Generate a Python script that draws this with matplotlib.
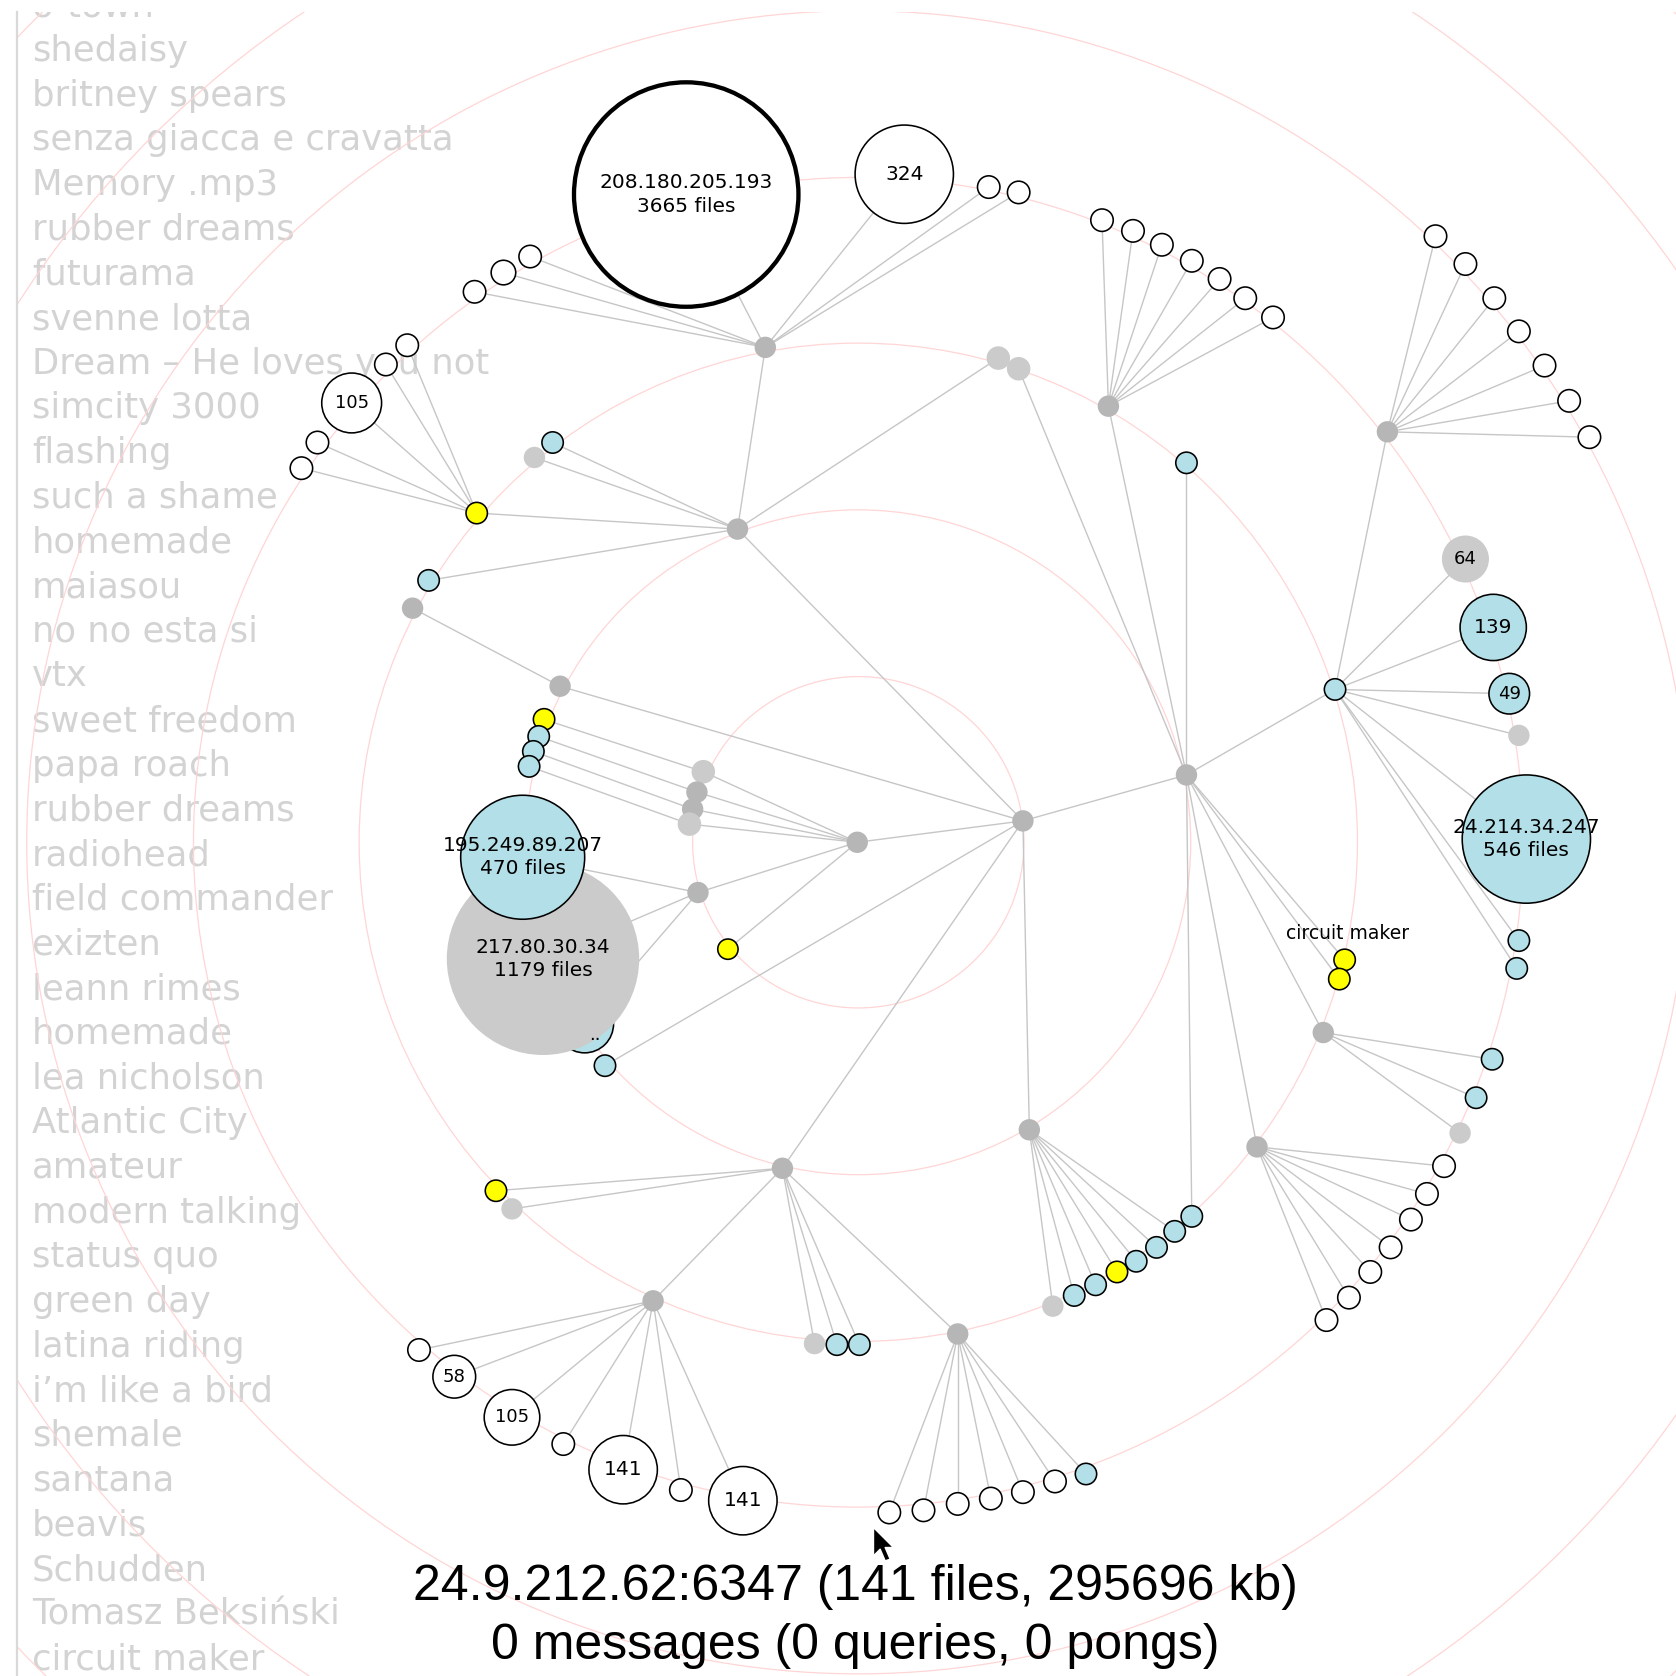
import matplotlib
matplotlib.use("Agg")
from matplotlib import pyplot as plt
from matplotlib.patches import Circle
from matplotlib.path import Path
from matplotlib.collections import LineCollection

# everything is in pixels of the 1568 preview, y pointing down
ring_center = (803, 788)
ring_radius = [155, 311, 467, 622, 778, 934, 1089, 1245]

# one line per group: core, ring-2 left, kids of n690, n524, n1110, n732, n963,
# n716, y446, n1037, b1249, n1298, n1238, n1176, n611, n896, n653
node_name = [
    "center", "root", "ca", "cb", "cc", "cd", "n653", "y681", "n690", "n524", "n1110", "n732", "n963", "b566",
    "", "", "", "",
    "n716", "n935", "y446", "n500", "b517", "b401",
    "n386",
    "n955", "n1037", "", "", "b1249", "n1238", "n1176", "", "",
    "n611", "n896", "", "", "", "", "",
    "", "", "", "", "", "", "",
    "", "", "", "", "", "", "",
    "", "", "", "", "",
    "", "", "", "", "", "", "",
    "n1298", "", "", "", "", "", "", "",
    "", "", "", "", "", "", "",
    "", "", "",
    "", "", "", "", "", "", "",
    "", "", "", "", "", "", "",
    "", "", "", "", "", "", "",
    "", "", "",
]
node_parent = [
    "root", "", "center", "center", "center", "center", "center", "center", "root", "root", "root", "root", "root", "root",
    "ca", "cb", "cc", "cd",
    "n690", "n690", "n690", "n690", "n690", "n690",
    "n524",
    "n1110", "n1110", "n1110", "n1110", "n1110", "n1110", "n1110", "n1110", "n1110",
    "n732", "n732", "n732", "n732", "n732", "n732", "n732",
    "n963", "n963", "n963", "n963", "n963", "n963", "n963",
    "n716", "n716", "n716", "n716", "n716", "n716", "n716",
    "y446", "y446", "y446", "y446", "y446",
    "n1037", "n1037", "n1037", "n1037", "n1037", "n1037", "n1037",
    "b1249", "b1249", "b1249", "b1249", "b1249", "b1249", "b1249", "b1249",
    "n1298", "n1298", "n1298", "n1298", "n1298", "n1298", "n1298",
    "n1238", "n1238", "n1238",
    "n1176", "n1176", "n1176", "n1176", "n1176", "n1176", "n1176",
    "n611", "n611", "n611", "n611", "n611", "n611", "n611",
    "n896", "n896", "n896", "n896", "n896", "n896", "n896",
    "n653", "n653", "n653",
]
node_x = [
    802, 957, 658, 652, 648, 645, 653, 681, 690, 524, 1110, 732, 963, 566,
    509, 504, 499, 495,
    716, 934, 446, 500, 517, 401,
    386,
    953, 1037, 1110, 1115, 1249, 1238, 1176, 1258, 1253,
    611, 896, 464, 479, 762, 783, 804,
    985, 1005, 1025, 1045, 1063, 1082, 1099,
    925, 953, 496, 471, 444, 846, 642,
    381, 361, 297, 282, 329,
    1031, 1060, 1087, 1115, 1141, 1165, 1191,
    1298, 1371, 1397, 1412, 1421, 1421, 1419, 1428,
    1343, 1371, 1398, 1421, 1445, 1468, 1487,
    1396, 1381, 1366,
    1351, 1335, 1320, 1301, 1282, 1262, 1241,
    392, 425, 479, 527, 583, 637, 695,
    832, 864, 896, 927, 957, 987, 1016,
    547, 508, 489,
]
node_y = [
    788, 768, 722, 741, 757, 771, 835, 888, 495, 642, 725, 1093, 1057, 997,
    673, 689, 703, 717,
    325, 335, 480, 428, 414, 543,
    569,
    345, 380, 433, 1138, 645, 966, 1073, 898, 916,
    1217, 1248, 1114, 1131, 1257, 1258, 1258,
    1222, 1212, 1202, 1190, 1180, 1167, 1152,
    175, 180, 240, 255, 273, 163, 182,
    323, 341, 414, 438, 377,
    206, 216, 229, 244, 261, 279, 297,
    404, 523, 587, 649, 688, 880, 906, 785,
    221, 247, 279, 310, 342, 375, 409,
    991, 1027, 1060,
    1091, 1117, 1141, 1167, 1190, 1214, 1235,
    1263, 1288, 1326, 1351, 1375, 1394, 1404,
    1415, 1413, 1407, 1402, 1396, 1386, 1379,
    958, 897, 802,
]
node_r = [
    10, 10, 11, 10, 10, 11, 10, 9.5, 10, 10, 10, 10, 10, 10,
    10, 10, 10, 10,
    10, 11, 10, 10, 10, 10,
    10,
    11, 10, 10, 10, 10, 10, 10, 10, 10,
    10, 10, 10, 10, 10, 10, 10,
    10, 10, 10, 10, 10, 10, 10,
    10.5, 10.5, 10.5, 11.5, 10.5, 46, 105,
    10.5, 10.5, 10.5, 10.5, 28,
    10.5, 10.5, 10.5, 10.5, 10.5, 10.5, 10.5,
    10, 22, 31, 19, 10, 10, 10, 60,
    10.5, 10.5, 10.5, 10.5, 10.5, 10.5, 10.5,
    10, 10, 10,
    10.5, 10.5, 10.5, 10.5, 10.5, 10.5, 10.5,
    10.5, 20, 26, 10.5, 32, 10.5, 32,
    10.5, 10.5, 10.5, 10.5, 10.5, 10.5, 10,
    27, 90, 58,
]
# w = no files shared, b = sharing, y = query hit, g/l = ultrapeers (dark/light)
node_kind = [
    "g", "g", "l", "g", "g", "l", "g", "y", "g", "g", "g", "g", "g", "b",
    "y", "b", "b", "b",
    "g", "l", "y", "l", "b", "b",
    "g",
    "l", "g", "b", "b", "b", "g", "g", "y", "y",
    "g", "g", "y", "l", "l", "b", "b",
    "l", "b", "b", "y", "b", "b", "b",
    "w", "w", "w", "w", "w", "w", "W",
    "w", "w", "w", "w", "w",
    "w", "w", "w", "w", "w", "w", "w",
    "g", "l", "b", "b", "l", "b", "b", "b",
    "w", "w", "w", "w", "w", "w", "w",
    "b", "b", "l",
    "w", "w", "w", "w", "w", "w", "w",
    "w", "w", "w", "w", "w", "w", "w",
    "w", "w", "w", "w", "w", "w", "b",
    "b", "l", "b",
]
node_label = [
    "", "", "", "", "", "", "", "", "", "", "", "", "", "",
    "", "", "", "",
    "", "", "", "", "", "",
    "",
    "", "", "", "", "", "", "", "", "",
    "", "", "", "", "", "", "",
    "", "", "", "", "", "", "",
    "", "", "", "", "", "324", "208.180.205.193\n3665 files",
    "", "", "", "", "105",
    "", "", "", "", "", "", "",
    "", "64", "139", "49", "", "", "", "24.214.34.247\n546 files",
    "", "", "", "", "", "", "",
    "", "", "",
    "", "", "", "", "", "", "",
    "", "58", "105", "", "141", "", "141",
    "", "", "", "", "", "", "",
    "..", "217.80.30.34\n1179 files", "195.249.89.207\n470 files",
]
hit_label = "circuit maker"
hit_label_pos = (1261, 873)

search_list = [
    "o-town", "shedaisy", "britney spears", "senza giacca e cravatta", "Memory .mp3",
    "rubber dreams", "futurama", "svenne lotta", "Dream \u2013 He loves you not",
    "simcity 3000", "flashing", "such a shame", "homemade", "maiasou", "no no esta si",
    "vtx", "sweet freedom", "papa roach", "rubber dreams", "radiohead",
    "field commander", "exizten", "leann rimes", "homemade", "lea nicholson",
    "Atlantic City", "amateur", "modern talking", "status quo", "green day",
    "latina riding", "i\u2019m like a bird", "shemale", "santana", "beavis", "Schudden",
    "Tomasz Beksi\u0144ski", "circuit maker",
]
status_lines = ["24.9.212.62:6347 (141 files, 295696 kb)",
                "0 messages (0 queries, 0 pongs)"]
cursor_at = (817, 1429)

fill = {"w": "white", "W": "white", "b": "#b3e0e8", "y": "#ffff00",
        "g": "#b6b6b6", "l": "#cbcbcb"}

fig = plt.figure(figsize=(16.76, 16.76), dpi=100)
ax = fig.add_axes([16 / 1568, 0, 1 - 16 / 1568, 1 - 11 / 1568])
ax.set_xlim(16, 1568)
ax.set_ylim(1568, 11)
ax.set_xticks([])
ax.set_yticks([])
for s in ["top", "right", "bottom"]:
    ax.spines[s].set_visible(False)
ax.spines["left"].set_color("#d9d9d9")
ax.spines["left"].set_linewidth(1.6)

# list of recent searches (top one is scrolled half out of view)
for i, item in enumerate(search_list):
    ax.text(30, 0.2 + 41.8 * i + 15, item, fontsize=25.5, color="#d3d3d3",
            family="DejaVu Sans", va="baseline", ha="left", zorder=0.5,
            clip_on=True)

for rr in ring_radius:
    ax.add_patch(Circle(ring_center, rr, fill=False, edgecolor="#ffd5d5",
                        linewidth=0.9, zorder=1))

pos = {n: (x, y) for n, x, y in zip(node_name, node_x, node_y) if n}
segs = []
for x, y, p in zip(node_x, node_y, node_parent):
    if p:
        segs.append([(x, y), pos[p]])
ax.add_collection(LineCollection(segs, colors="#c6c6c6", linewidths=1.0, zorder=2))

for i, (x, y, r, k, lab) in enumerate(zip(node_x, node_y, node_r, node_kind, node_label)):
    z = 3 + i * 0.01
    if k in "gl":
        ax.add_patch(Circle((x, y), r, facecolor=fill[k], edgecolor="none", zorder=z))
    else:
        lw = 3.1 if k == "W" else 1.15
        ax.add_patch(Circle((x, y), r, facecolor=fill[k], edgecolor="black",
                            linewidth=lw, zorder=z))
    if lab:
        fs = 13 if r < 30 else 14.5
        ax.text(x + (10 if lab == ".." else 0), y + (10 if lab == ".." else 0),
                lab, fontsize=fs, ha="center", va="center", linespacing=1.3,
                color="black", zorder=7)

ax.text(hit_label_pos[0], hit_label_pos[1], hit_label, fontsize=13.5,
        ha="center", va="center", zorder=7)

for j, line in enumerate(status_lines):
    ax.text(800, 1485 + 55 * j, line, fontsize=36, family="Liberation Sans",
            ha="center", va="center", color="black", zorder=8)

arrow = Path([(0, 0), (0, -17), (4, -13), (7, -20), (10, -19), (7, -12),
              (12, -12), (0, 0)])
ax.plot([cursor_at[0]], [cursor_at[1]], marker=arrow, markersize=48,
        markerfacecolor="black", markeredgecolor="white", markeredgewidth=1,
        linestyle="none", zorder=9)

fig.savefig("out.png", dpi=100, facecolor="white")
